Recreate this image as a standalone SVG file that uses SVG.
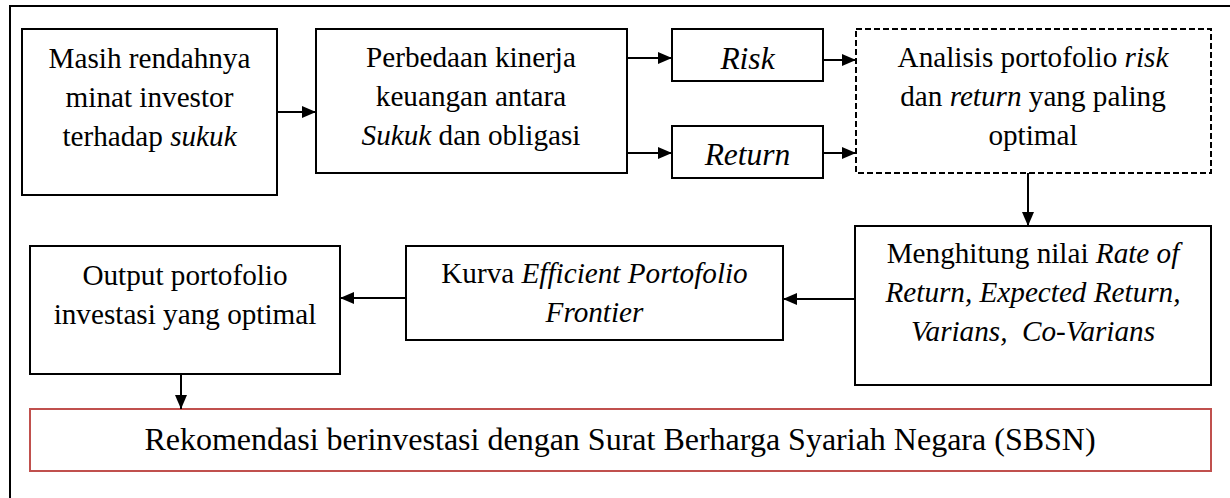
<svg xmlns="http://www.w3.org/2000/svg" width="1230" height="498" viewBox="0 0 1230 498">
  <style>
    .box { fill: #ffffff; stroke: #000000; stroke-width: 2; }
    .dash { fill: #ffffff; stroke: #000000; stroke-width: 2; stroke-dasharray: 6 3; }
    .red { fill: #ffffff; stroke: #c0504d; stroke-width: 2; }
    .frame { fill: none; stroke: #000000; stroke-width: 2; }
    .lbl { font-family: "Liberation Serif", "Times New Roman", serif; font-size: 29.2px; fill: #000000; text-anchor: middle; }
    .big { font-size: 31.5px; }
    .rec { font-size: 32px; }
    .it { font-style: italic; }
    .conn { stroke: #000000; stroke-width: 2; fill: none; marker-end: url(#arrow); }
  </style>
  <defs>
    <marker id="arrow" markerUnits="userSpaceOnUse" markerWidth="15" markerHeight="12" refX="14" refY="6" orient="auto">
      <path d="M0,0 L14,6 L0,12 z" fill="#000000"/>
    </marker>
  </defs>

  <rect width="1230" height="498" fill="#ffffff"/>

  <!-- outer frame, open at bottom and right -->
  <path class="frame" d="M10,500 L10,6 L1232,6"/>

  <g id="node-minat">
    <rect class="box" x="22" y="29" width="255" height="166"/>
    <text class="lbl" x="149.5" y="68">Masih rendahnya</text>
    <text class="lbl" x="149.5" y="107">minat investor</text>
    <text class="lbl" x="149.5" y="146">terhadap <tspan class="it">sukuk</tspan></text>
  </g>

  <g id="node-perbedaan">
    <rect class="box" x="316" y="29" width="311" height="144"/>
    <text class="lbl" x="471" y="67">Perbedaan kinerja</text>
    <text class="lbl" x="471" y="106">keuangan antara</text>
    <text class="lbl" x="471" y="145"><tspan class="it">Sukuk</tspan> dan obligasi</text>
  </g>

  <g id="node-risk">
    <rect class="box" x="672" y="29" width="151" height="52"/>
    <text class="lbl big it" x="747.5" y="69">Risk</text>
  </g>

  <g id="node-return">
    <rect class="box" x="672" y="126" width="151" height="52"/>
    <text class="lbl big it" x="747.5" y="165">Return</text>
  </g>

  <g id="node-analisis">
    <rect class="dash" x="856" y="29" width="355" height="144"/>
    <text class="lbl" x="1033" y="67">Analisis portofolio <tspan class="it">risk</tspan></text>
    <text class="lbl" x="1033" y="106">dan <tspan class="it">return</tspan> yang paling</text>
    <text class="lbl" x="1033" y="145">optimal</text>
  </g>

  <g id="node-menghitung">
    <rect class="box" x="855" y="226" width="356" height="159"/>
    <text class="lbl" x="1033" y="263">Menghitung nilai <tspan class="it">Rate of</tspan></text>
    <text class="lbl it" x="1033" y="302">Return, Expected Return,</text>
    <text class="lbl it" x="1033" y="341" xml:space="preserve">Varians,  Co-Varians</text>
  </g>

  <g id="node-kurva">
    <rect class="box" x="406" y="246" width="377" height="94"/>
    <text class="lbl" x="594.5" y="283">Kurva <tspan class="it">Efficient Portofolio</tspan></text>
    <text class="lbl it" x="594.5" y="322">Frontier</text>
  </g>

  <g id="node-output">
    <rect class="box" x="30" y="246" width="310" height="128"/>
    <text class="lbl" x="185" y="285">Output portofolio</text>
    <text class="lbl" x="185" y="324">investasi yang optimal</text>
  </g>

  <g id="node-rekomendasi">
    <rect class="red" x="30" y="409" width="1181" height="62"/>
    <text class="lbl rec" x="620" y="450">Rekomendasi berinvestasi dengan Surat Berharga Syariah Negara (SBSN)</text>
  </g>

  <g id="connectors">
    <line class="conn" x1="277" y1="112" x2="316" y2="112"/>
    <line class="conn" x1="627" y1="58" x2="672" y2="58"/>
    <line class="conn" x1="627" y1="153" x2="672" y2="153"/>
    <line class="conn" x1="823" y1="60" x2="856" y2="60"/>
    <line class="conn" x1="823" y1="153" x2="856" y2="153"/>
    <line class="conn" x1="1028" y1="173" x2="1028" y2="226"/>
    <line class="conn" x1="855" y1="299" x2="783" y2="299"/>
    <line class="conn" x1="406" y1="298" x2="340" y2="298"/>
    <line class="conn" x1="181" y1="374" x2="181" y2="409"/>
  </g>
</svg>
